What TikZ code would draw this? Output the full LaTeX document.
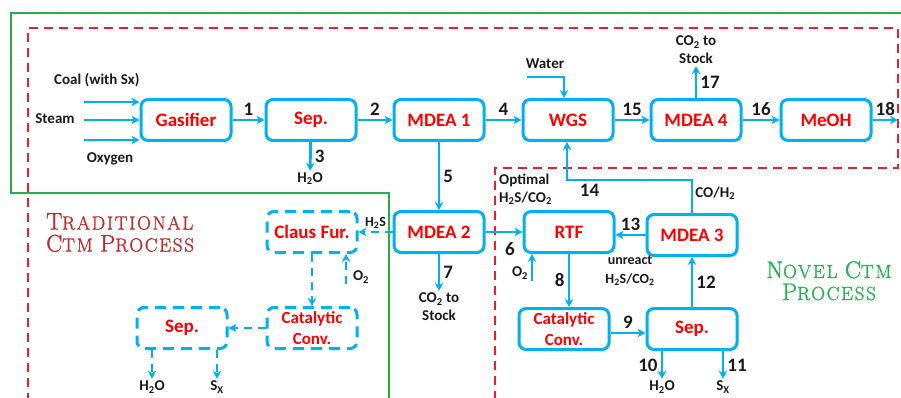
\documentclass[tikz,border=0pt]{standalone}
\usepackage{fontspec}
\setsansfont{Carlito}
\newfontfamily\titlefont[LetterSpace=9, FakeBold=1.3]{Latin Modern Roman}
\usetikzlibrary{positioning, arrows.meta}
\definecolor{unitline}{HTML}{00B0F0}
\definecolor{unittext}{HTML}{FF0000}
\definecolor{novelgreen}{HTML}{22B14C}
\definecolor{tradred}{HTML}{C0282A}
\definecolor{zonered}{HTML}{E8202A}
\definecolor{textmain}{HTML}{1A1A1A}
\newcommand{\capword}[2]{{\fontsize{24}{22}\selectfont #1}#2}

\begin{document}
\begin{tikzpicture}[
    x=1pt, y=-1pt,
    box/.style={rectangle, draw=unitline, line width=3pt, rounded corners=7pt,
                minimum width=90pt, minimum height=41pt, align=center, text=unittext,
                font=\sffamily\bfseries\fontsize{19}{21}\selectfont},
    dbox/.style={box, dash pattern=on 11pt off 7pt},
    small/.style={font=\sffamily\bfseries\fontsize{17}{21}\selectfont},
    flow/.style={-{Stealth[length=8pt, width=8.5pt, inset=2.5pt]}, line width=2.8pt, unitline},
    dflow/.style={flow, dash pattern=on 8pt off 6pt},
    lbl/.style={text=textmain, font=\sffamily\bfseries\fontsize{15}{18}\selectfont, inner sep=2pt},
    num/.style={text=textmain, font=\sffamily\bfseries\fontsize{19}{19}\selectfont, inner sep=3pt},
    title/.style={font=\titlefont\fontsize{19}{22}\selectfont, inner sep=0pt}
  ]
    \useasboundingbox (0,0) rectangle (901,398);
    \clip (0,0) rectangle (901,398);

    % process zones
    \draw[novelgreen, line width=2.8pt] (905,13) -- (11,13) -- (11,193) -- (389,193) -- (389,402);
    \draw[zonered, line width=2.2pt, dash pattern=on 9pt off 6pt]
      (28,402) -- (28,28) -- (898,28) -- (898,168) -- (495,168) -- (495,402);

    % units
    \node[box] (gasifier) at (186,120) {Gasifier};
    \node[box] (sep1) at (311,120) {Sep.};
    \node[box] (mdea1) at (439,120) {MDEA 1};
    \node[box] (wgs) at (568,120) {WGS};
    \node[box] (mdea4) at (696,120) {MDEA 4};
    \node[box] (meoh) at (826,120) {MeOH};
    \node[box] (mdea2) at (439,232) {MDEA 2};
    \node[box] (rtf) at (569,232) {RTF};
    \node[box] (mdea3) at (692,235) {MDEA 3};
    \node[box, small] (catconv) at (564,329) {Catalytic\\Conv.};
    \node[box] (sep2) at (692,329) {Sep.};
    \node[dbox] (claus) at (312,232) {Claus Fur.};
    \node[dbox, small] (dcatconv) at (312,328) {Catalytic\\Conv.};
    \node[dbox] (dsep) at (182,328) {Sep.};

    % feeds and products
    \node[lbl, anchor=west] (coal) at (52,80) {Coal (with Sx)};
    \node[lbl] (steam) at (55,119) {Steam};
    \node[lbl] (oxygen) at (110,159) {Oxygen};
    \node[lbl] (water) at (545,64) {Water};
    \node[lbl, align=center] (co2top) at (696,50) {CO\textsubscript{2} to\\Stock};
    \node[lbl, align=center] (co2mid) at (439,307) {CO\textsubscript{2} to\\Stock};
    \node[lbl] (h2otop) at (310,179) {H\textsubscript{2}O};
    \node[lbl] (h2onew) at (662,387) {H\textsubscript{2}O};
    \node[lbl] (sxnew) at (723,387) {S\textsubscript{X}};
    \node[lbl] (h2oold) at (152,387) {H\textsubscript{2}O};
    \node[lbl] (sxold) at (217,387) {S\textsubscript{X}};
    \node[lbl] (o2new) at (520,273) {O\textsubscript{2}};
    \node[lbl] (o2old) at (361,277) {O\textsubscript{2}};
    \node[lbl, align=left, anchor=west] (optimal) at (497,189) {Optimal\\H\textsubscript{2}S/CO\textsubscript{2}};
    \node[lbl, align=center, font=\sffamily\bfseries\fontsize{14}{19}\selectfont] (unreact) at (630,271)
      {unreact\\H\textsubscript{2}S/CO\textsubscript{2}};
    \node[num] (n6) at (510,249) {6};
    \coordinate (coalin) at (84,102);
    \coordinate (steamin) at (84,120);
    \coordinate (oxyin) at (84,140);
    \coordinate (waterin) at (527,77);
    \coordinate (out18) at (898,120);
    \coordinate (o2newin) at (532,281);
    \coordinate (o2oldin) at (346,284);
    \coordinate (bend14) at (692,180);

    % titles
    \node[title, text=tradred, align=left, anchor=north west] (tradtitle) at (46,213)
      {\capword{T}{RADITIONAL}\\\capword{C}{TM} \capword{P}{ROCESS}};
    \node[title, text=novelgreen, align=center, anchor=north] (noveltitle) at (829,261)
      {\capword{N}{OVEL} \capword{C}{TM}\\\capword{P}{ROCESS}};

    % main line
    \draw[flow] (coalin) -- (coalin -| gasifier.west);
    \draw[flow] (steamin) -- (steamin -| gasifier.west);
    \draw[flow] (oxyin) -- (oxyin -| gasifier.west);
    \draw[flow] (gasifier) -- node[num, above]{1} (sep1);
    \draw[flow] (sep1) -- node[num, right]{3} (h2otop);
    \draw[flow] (sep1) -- node[num, above]{2} (mdea1);
    \draw[flow] (mdea1) -- node[num, above]{4} (wgs);
    \draw[flow] (waterin) -| ([xshift=-4pt]wgs.north);
    \draw[flow] (wgs) -- node[num, above]{15} (mdea4);
    \draw[flow] (mdea4) -- node[num, right]{17} (co2top);
    \draw[flow] (mdea4) -- node[num, above]{16} (meoh);
    \draw[flow] (meoh) -- node[num, above]{18} (out18);
    \draw[flow] (mdea1) -- node[num, right]{5} (mdea2);
    \draw[flow] (mdea2) -- node[num, right]{7} (co2mid);

    % novel sulfur route
    \draw[flow] (mdea2) -- (mdea2 -| rtf.west);
    \draw[flow] (o2newin) -- (o2newin |- rtf.south);
    \draw[flow] (rtf) -- node[num, left]{8} (rtf |- catconv.north);
    \draw[flow] (catconv.east |- 0,333) -- node[num, above]{9} (sep2.west |- 0,333);
    \draw[flow] (sep2.south -| h2onew) -- node[num, left]{10} (h2onew);
    \draw[flow] (sep2.south -| sxnew) -- node[num, right]{11} (sxnew);
    \draw[flow] (sep2) -- node[num, right]{12} (mdea3);
    \draw[flow] (mdea3.west) -- node[num, above]{13} (mdea3.west -| rtf.east);
    \draw[flow] (mdea3.north) -- node[lbl, right, pos=0.6]{CO/H\textsubscript{2}} (bend14)
      -| node[num, below, pos=0.41]{14} ([xshift=-1pt]wgs.south);

    % traditional sulfur route
    \draw[dflow] (mdea2) -- node[lbl, above, font=\sffamily\bfseries\fontsize{14}{15}\selectfont]{H\textsubscript{2}S} (claus);
    \draw[dflow] (o2oldin) -- (o2oldin |- claus.south);
    \draw[dflow] (claus) -- (dcatconv);
    \draw[dflow] (dcatconv) -- (dsep);
    \draw[dflow] (dsep.south -| h2oold) -- (h2oold);
    \draw[dflow] (dsep.south -| sxold) -- (sxold);
  \end{tikzpicture}
\end{document}
